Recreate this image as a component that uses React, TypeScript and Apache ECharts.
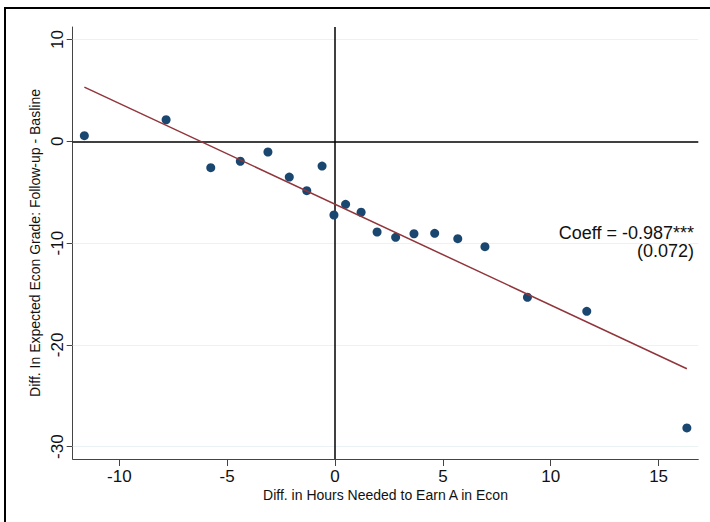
import React, { useEffect, useRef } from "react";
import * as echarts from "echarts";

const pointX = [-11.62, -7.83, -5.76, -4.39, -3.11, -2.12, -1.31, -0.6, -0.05, 0.49, 1.21, 1.95, 2.81, 3.66, 4.62, 5.69, 6.95, 8.92, 11.67, 16.31];
const pointY = [0.55, 2.12, -2.59, -1.96, -1.05, -3.51, -4.85, -2.43, -7.24, -6.19, -6.97, -8.91, -9.43, -9.08, -9.04, -9.57, -10.35, -15.32, -16.7, -28.16];
const fitX = [-11.62, 16.31];
const fitY = [5.33, -22.34];
const xTicks = [-10, -5, 0, 5, 10, 15];
const yTicks = [10, 0, -10, -20, -30];
const gridY = [10, -10, -20, -30];
const refX = [0];
const refY = [0];
const xTitle = "Diff. in Hours Needed to Earn A in Econ";
const yTitle = "Diff. In Expected Econ Grade: Follow-up - Basline";
const coeffLine1 = "Coeff = -0.987***";
const coeffLine2 = "(0.072)";

const FONT = "Liberation Sans, Arial, Helvetica, sans-serif";

export default function App() {
  const ref = useRef<HTMLDivElement>(null);
  useEffect(() => {
    if (!ref.current) return;
    const chart = echarts.init(ref.current, undefined, { renderer: "svg" });
    const option: any = {
      animation: false,
      backgroundColor: "#ffffff",
      textStyle: { fontFamily: FONT },
      grid: {
        left: 72.7,
        right: 11.7,
        top: 27,
        bottom: 63,
        containLabel: false,
        outerBoundsMode: "none",
      },
      xAxis: {
        type: "value",
        min: -12.16,
        max: 16.84,
        name: xTitle,
        nameLocation: "middle",
        nameGap: 29,
        nameMoveOverlap: false,
        nameTextStyle: { fontSize: 14, color: "#111", fontFamily: FONT },
        axisLine: { show: true, onZero: false, lineStyle: { color: "#444", width: 1 } },
        axisTick: { show: true, length: 7, customValues: xTicks, lineStyle: { color: "#444" } },
        axisLabel: { customValues: xTicks, fontSize: 17, color: "#111", margin: 9, fontFamily: FONT },
        splitLine: { show: false },
      },
      yAxis: {
        type: "value",
        min: -31.21,
        max: 11.23,
        name: yTitle,
        nameLocation: "middle",
        nameGap: 31,
        nameMoveOverlap: false,
        nameRotate: 90,
        nameTextStyle: { fontSize: 14, color: "#111", fontFamily: FONT },
        axisLine: { show: true, onZero: false, lineStyle: { color: "#444", width: 1 } },
        axisTick: { show: true, length: 6, customValues: yTicks, lineStyle: { color: "#444" } },
        axisLabel: { customValues: yTicks, rotate: 90, fontSize: 17, color: "#111", margin: 7, fontFamily: FONT },
        splitLine: { show: false },
      },
      series: [
        {
          type: "line",
          data: [],
          silent: true,
          z: 1,
          markLine: {
            silent: true,
            z: 1,
            symbol: "none",
            label: { show: false },
            lineStyle: { color: "#eaf2f3", width: 1, type: "solid" },
            data: gridY.map((v) => ({ yAxis: v })),
          },
        },
        {
          type: "line",
          data: [],
          silent: true,
          z: 2,
          markLine: {
            silent: true,
            z: 2,
            symbol: "none",
            label: { show: false },
            lineStyle: { color: "#000000", width: 1.5, type: "solid" },
            data: [...refX.map((v) => ({ xAxis: v })), ...refY.map((v) => ({ yAxis: v }))],
          },
        },
        {
          type: "scatter",
          z: 3,
          symbolSize: 9,
          itemStyle: { color: "#1a476f", opacity: 1 },
          data: pointX.map((x, i) => [x, pointY[i]]),
        },
        {
          type: "line",
          z: 4,
          symbol: "none",
          lineStyle: { color: "#90353b", width: 1.5 },
          data: fitX.map((x, i) => [x, fitY[i]]),
        },
      ],
      graphic: [
        {
          type: "rect",
          silent: true,
          shape: { x: 5, y: 8, width: 720, height: 530 },
          style: { fill: "none", stroke: "#000", lineWidth: 2 },
          z: 10,
        },
        {
          type: "text",
          x: 694,
          y: 232.5,
          style: {
            text: coeffLine1,
            fontSize: 18,
            fontFamily: FONT,
            fill: "#111",
            textAlign: "right",
            textVerticalAlign: "middle",
          },
          z: 10,
        },
        {
          type: "text",
          x: 694,
          y: 251,
          style: {
            text: coeffLine2,
            fontSize: 18,
            fontFamily: FONT,
            fill: "#111",
            textAlign: "right",
            textVerticalAlign: "middle",
          },
          z: 10,
        },
      ],
    };
    chart.setOption(option);
    return () => chart.dispose();
  }, []);
  return (
    <div
      ref={ref}
      style={{ width: 710, height: 522, position: "absolute", left: 0, top: 0, background: "#fff" }}
    />
  );
}
